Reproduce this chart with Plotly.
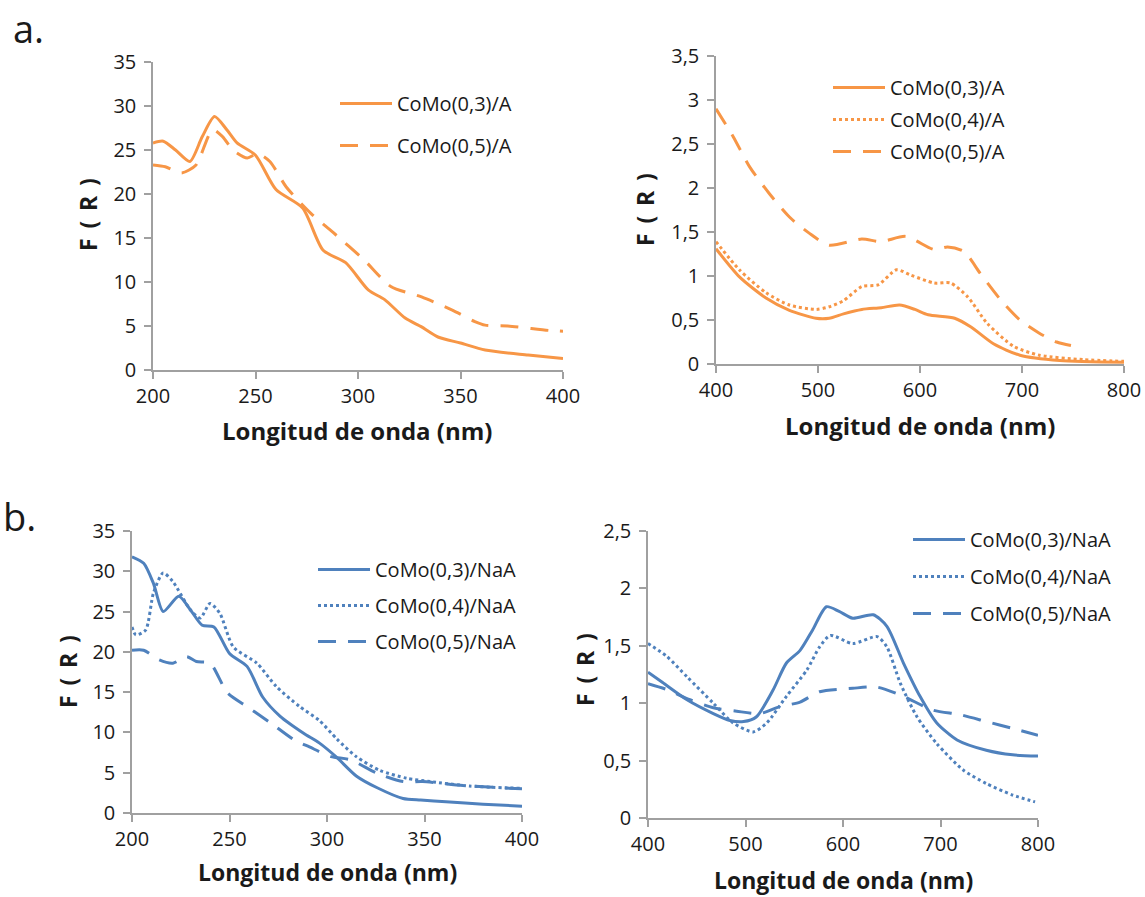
import plotly.graph_objects as go

# ---------------- data ----------------
# a. left (200-400 nm)
a1_x03 = [200, 205, 211, 218, 224, 230, 236, 241, 250, 260, 273, 283, 294, 305, 313, 323, 331, 339, 350, 362, 383, 400]
a1_y03 = [25.8, 26.0, 25.0, 23.7, 26.5, 28.8, 27.3, 25.8, 24.4, 20.5, 18.4, 13.6, 12.2, 9.1, 8.0, 5.9, 4.9, 3.75, 3.06, 2.27, 1.70, 1.30]
a1_x05 = [200, 206, 214, 221, 229, 234, 239, 246, 251, 257, 265, 277, 288, 303, 316, 331, 346, 357, 362, 373, 393, 400]
a1_y05 = [23.3, 23.1, 22.4, 23.3, 27.3, 26.5, 25.0, 24.1, 24.6, 23.7, 20.8, 17.8, 15.6, 12.5, 9.5, 8.3, 6.8, 5.5, 5.1, 5.0, 4.5, 4.4]

# a. right (400-800 nm)
a2_x03 = [400, 423, 449, 472, 498, 511, 525, 543, 562, 580, 595, 608, 634, 650, 672, 698, 737, 800]
a2_y03 = [1.31, 0.99, 0.75, 0.61, 0.52, 0.52, 0.57, 0.62, 0.64, 0.67, 0.62, 0.56, 0.52, 0.42, 0.23, 0.10, 0.04, 0.02]
a2_x04 = [400, 423, 449, 472, 498, 511, 525, 543, 559, 577, 591, 614, 630, 647, 666, 692, 717, 760, 800]
a2_y04 = [1.39, 1.07, 0.81, 0.67, 0.62, 0.65, 0.72, 0.88, 0.90, 1.07, 1.01, 0.92, 0.92, 0.76, 0.46, 0.20, 0.10, 0.05, 0.03]
a2_x05 = [400, 417, 433, 452, 472, 491, 511, 543, 562, 586, 614, 627, 643, 659, 679, 698, 717, 734, 748]
a2_y05 = [2.90, 2.58, 2.24, 1.94, 1.67, 1.49, 1.35, 1.42, 1.39, 1.45, 1.30, 1.33, 1.28, 1.03, 0.73, 0.50, 0.35, 0.25, 0.21]

# b. left (200-400 nm)
b1_x03 = [200, 206, 211, 216, 224, 230, 236, 242, 250, 259, 267, 276, 288, 296, 305, 315, 326, 339, 348, 361, 380, 400]
b1_y03 = [31.8, 31.0, 28.5, 25.0, 26.9, 25.2, 23.3, 23.1, 19.8, 18.2, 14.4, 12.0, 9.9, 8.7, 6.9, 4.6, 3.1, 1.8, 1.6, 1.4, 1.1, 0.85]
b1_x04 = [200, 202, 207, 211, 216, 221, 230, 235, 240, 245, 252, 264, 274, 286, 296, 305, 315, 327, 341, 353, 373, 400]
b1_y04 = [23.1, 22.1, 22.7, 27.3, 29.8, 28.7, 25.2, 24.2, 26.0, 24.8, 20.6, 18.6, 15.7, 13.2, 11.5, 9.2, 7.0, 5.3, 4.3, 3.9, 3.35, 3.05]
b1_x05 = [200, 206, 214, 221, 228, 233, 240, 249, 259, 271, 283, 291, 302, 312, 326, 339, 349, 370, 400]
b1_y05 = [20.2, 20.2, 19.0, 18.6, 19.4, 18.8, 18.6, 14.9, 13.2, 11.2, 9.1, 8.2, 7.0, 6.6, 4.9, 3.9, 3.9, 3.4, 3.0]

# b. right (400-800 nm)
b2_x03 = [400, 415, 440, 467, 484, 498, 511, 528, 542, 556, 569, 583, 596, 610, 631, 645, 662, 679, 696, 717, 747, 774, 800]
b2_y03 = [1.27, 1.18, 1.03, 0.91, 0.85, 0.84, 0.88, 1.11, 1.35, 1.46, 1.64, 1.84, 1.80, 1.74, 1.77, 1.67, 1.35, 1.06, 0.83, 0.68, 0.59, 0.55, 0.54]
b2_x04 = [400, 419, 440, 467, 487, 508, 522, 542, 563, 576, 587, 610, 635, 645, 659, 676, 696, 723, 747, 774, 797]
b2_y04 = [1.52, 1.41, 1.23, 1.00, 0.83, 0.75, 0.83, 1.06, 1.29, 1.49, 1.59, 1.52, 1.58, 1.49, 1.17, 0.88, 0.65, 0.42, 0.30, 0.20, 0.14]
b2_x05 = [400, 419, 443, 467, 491, 515, 535, 556, 576, 610, 635, 662, 692, 720, 747, 774, 800]
b2_y05 = [1.17, 1.12, 1.03, 0.96, 0.93, 0.91, 0.97, 1.01, 1.10, 1.13, 1.14, 1.06, 0.94, 0.90, 0.84, 0.78, 0.72]

names_a = ["CoMo(0,3)/A", "CoMo(0,4)/A", "CoMo(0,5)/A"]
names_b = ["CoMo(0,3)/NaA", "CoMo(0,4)/NaA", "CoMo(0,5)/NaA"]

ticks_uv = [200, 250, 300, 350, 400]
ticks_vis = [400, 500, 600, 700, 800]
ticks_y35 = [0, 5, 10, 15, 20, 25, 30, 35]
ticks_y35_txt = ["0", "5", "10", "15", "20", "25", "30", "35"]
ticks_y3_5 = [0, 0.5, 1, 1.5, 2, 2.5, 3, 3.5]
ticks_y3_5_txt = ["0", "0,5", "1", "1,5", "2", "2,5", "3", "3,5"]
ticks_y2_5 = [0, 0.5, 1, 1.5, 2, 2.5]
ticks_y2_5_txt = ["0", "0,5", "1", "1,5", "2", "2,5"]

xtitle = "Longitud de onda (nm)"
ytitle = "F \u2009( \u2009R \u2009)"

# ---------------- styling ----------------
W, H = 1145, 897
ORANGE = "#F79646"
BLUE = "#4F81BD"
FONT = "Open Sans"
TXT = "#1a1a1a"
AX = "#a0a0a0"
DASH = "18px,12px"
LW = 3


def px_x(p):
    return p / W


def px_y(p):
    return 1 - p / H


fig = go.Figure()


def add(x, y, name, color, dash, xa, ya, leg, grp):
    fig.add_trace(go.Scatter(
        x=x, y=y, name=name, mode="lines",
        line=dict(color=color, width=LW, dash=dash, shape="spline", smoothing=0.7),
        xaxis=xa, yaxis=ya, legend=leg, legendgroup=grp, showlegend=True,
        hoverinfo="skip"))


add(a1_x03, a1_y03, names_a[0], ORANGE, "solid", "x", "y", "legend", "a1a")
add(a1_x05, a1_y05, names_a[2], ORANGE, DASH, "x", "y", "legend", "a1c")
add(a2_x03, a2_y03, names_a[0], ORANGE, "solid", "x2", "y2", "legend2", "a2a")
add(a2_x04, a2_y04, names_a[1], ORANGE, "dot", "x2", "y2", "legend2", "a2b")
add(a2_x05, a2_y05, names_a[2], ORANGE, DASH, "x2", "y2", "legend2", "a2c")
add(b1_x03, b1_y03, names_b[0], BLUE, "solid", "x3", "y3", "legend3", "b1a")
add(b1_x04, b1_y04, names_b[1], BLUE, "dot", "x3", "y3", "legend3", "b1b")
add(b1_x05, b1_y05, names_b[2], BLUE, DASH, "x3", "y3", "legend3", "b1c")
add(b2_x03, b2_y03, names_b[0], BLUE, "solid", "x4", "y4", "legend4", "b2a")
add(b2_x04, b2_y04, names_b[1], BLUE, "dot", "x4", "y4", "legend4", "b2b")
add(b2_x05, b2_y05, names_b[2], BLUE, DASH, "x4", "y4", "legend4", "b2c")

tickfont = dict(family=FONT, size=20, color=TXT)


def xaxis(dom, rng, tv, anchor):
    return dict(domain=dom, range=rng, tickvals=tv, ticktext=[str(v) for v in tv],
                showline=True, linecolor=AX, linewidth=1.5, ticks="outside",
                tickcolor=AX, ticklen=7, tickwidth=1.5, showgrid=False, zeroline=False,
                tickfont=tickfont, anchor=anchor, fixedrange=True, automargin=False)


def yaxis(dom, rng, tv, tt, anchor):
    return dict(domain=dom, range=rng, tickvals=tv, ticktext=tt,
                showline=True, linecolor=AX, linewidth=1.5, ticks="outside",
                tickcolor=AX, ticklen=7, tickwidth=1.5, showgrid=False, zeroline=False,
                tickfont=tickfont, anchor=anchor, fixedrange=True, ticklabelstandoff=4,
                automargin=False)


legfont = dict(family=FONT, size=20, color=TXT)


def legend(xp, yp, gap):
    return dict(x=px_x(xp), y=px_y(yp), xanchor="left", yanchor="top",
                bgcolor="rgba(0,0,0,0)", font=legfont, tracegroupgap=gap,
                itemwidth=52, traceorder="grouped")


fig.update_layout(
    width=W, height=H, margin=dict(l=0, r=0, t=0, b=0, pad=0, autoexpand=False),
    paper_bgcolor="white", plot_bgcolor="white",
    font=dict(family=FONT, color=TXT),
    xaxis=xaxis([px_x(153), px_x(563)], [200, 400], ticks_uv, "y"),
    yaxis=yaxis([px_y(370), px_y(62)], [0, 35], ticks_y35, ticks_y35_txt, "x"),
    xaxis2=xaxis([px_x(716), px_x(1124)], [400, 800], ticks_vis, "y2"),
    yaxis2=yaxis([px_y(364), px_y(56)], [0, 3.5], ticks_y3_5, ticks_y3_5_txt, "x2"),
    xaxis3=xaxis([px_x(132), px_x(522)], [200, 400], ticks_uv, "y3"),
    yaxis3=yaxis([px_y(813), px_y(531)], [0, 35], ticks_y35, ticks_y35_txt, "x3"),
    xaxis4=xaxis([px_x(648), px_x(1038)], [400, 800], ticks_vis, "y4"),
    yaxis4=yaxis([px_y(818), px_y(531)], [0, 2.5], ticks_y2_5, ticks_y2_5_txt, "x4"),
    legend=legend(335, 84, 13),
    legend2=legend(828, 68, 3),
    legend3=legend(313, 550, 7),
    legend4=legend(908, 520, 8),
)

annots = []


def ann(text, xp, yp, size, bold=True, angle=0):
    annots.append(dict(text=("<b>%s</b>" % text) if bold else text,
                       x=px_x(xp), y=px_y(yp), xref="paper", yref="paper",
                       xanchor="center", yanchor="middle", showarrow=False,
                       textangle=angle, font=dict(family=FONT, size=size, color=TXT)))


ann(xtitle, 357, 430, 24)
ann(xtitle, 920, 425, 24)
ann(xtitle, 327, 872, 23)
ann(xtitle, 843, 880, 23)
ann(ytitle, 88, 215, 23, angle=-90)
ann(ytitle, 645, 210, 23, angle=-90)
ann(ytitle, 68, 672, 23, angle=-90)
ann(ytitle, 585, 670, 23, angle=-90)
ann("a.", 28, 28, 38, bold=False)
ann("b.", 19, 516, 38, bold=False)
fig.update_layout(annotations=annots)

fig.write_html("out.html")
